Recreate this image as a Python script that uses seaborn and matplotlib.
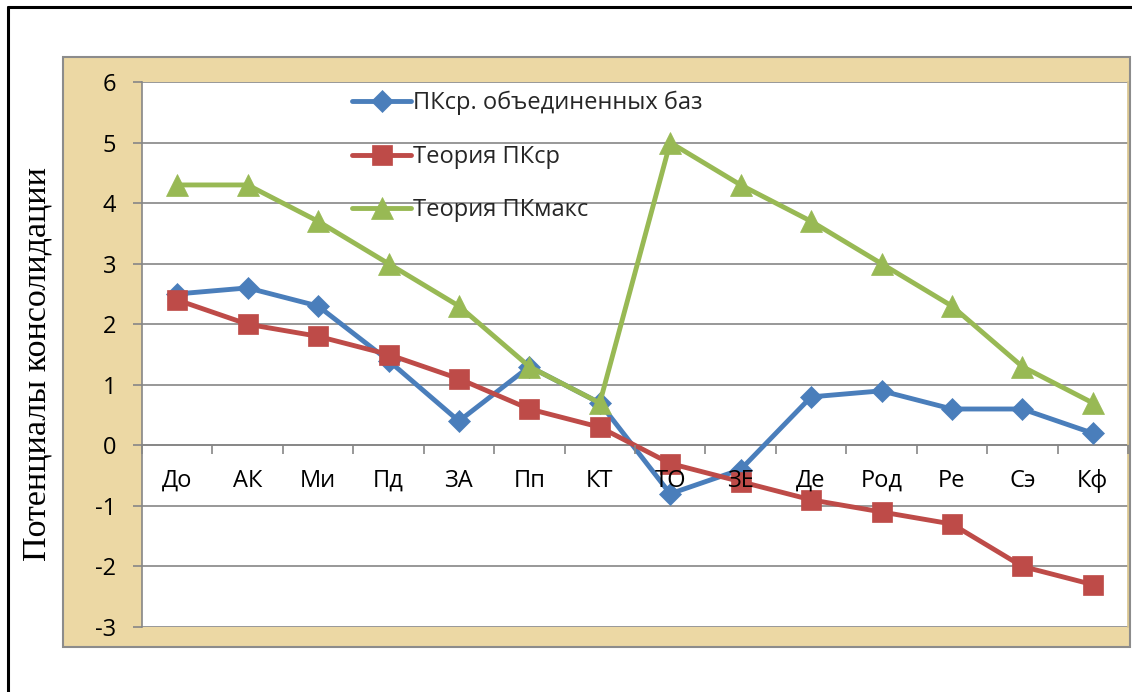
import matplotlib
matplotlib.use("Agg")
import matplotlib.pyplot as plt
from matplotlib.patches import Rectangle
from matplotlib.lines import Line2D
import seaborn as sns
import pandas as pd

categories = ["До", "АК", "Ми", "Пд", "ЗА", "Пп", "КТ", "ТО", "ЗЕ", "Де", "Род", "Ре", "Сэ", "Кф"]
pk_united = [2.5, 2.6, 2.3, 1.4, 0.4, 1.3, 0.7, -0.8, -0.4, 0.8, 0.9, 0.6, 0.6, 0.2]
theory_avg = [2.4, 2.0, 1.8, 1.5, 1.1, 0.6, 0.3, -0.3, -0.6, -0.9, -1.1, -1.3, -2.0, -2.3]
theory_max = [4.3, 4.3, 3.7, 3.0, 2.3, 1.3, 0.7, 5.0, 4.3, 3.7, 3.0, 2.3, 1.3, 0.7]
series_names = ["ПКср. объединенных баз", "Теория ПКср", "Теория ПКмакс"]
y_ticks = [-3, -2, -1, 0, 1, 2, 3, 4, 5, 6]

colors = ["#4A7EBB", "#BE4B48", "#98B954"]
markers = ["D", "s", "^"]
msizes = [11.5, 14, 15.5]

sns.set_theme(style="white")
plt.rcParams['font.family'] = ['Open Sans', 'DejaVu Sans']

W, H = 1132, 692
fig = plt.figure(figsize=(W / 100, H / 100), dpi=100)
fig.patch.set_facecolor("white")

# outer black frame (left and top visible)
fig.add_artist(Line2D([8 / W, 8 / W], [0, 1 - 7 / H], transform=fig.transFigure, color="black", lw=2.2))
fig.add_artist(Line2D([8 / W, 1], [1 - 7 / H, 1 - 7 / H], transform=fig.transFigure, color="black", lw=2.2))

# textured (papyrus-like) plot frame
fig.add_artist(Rectangle((63 / W, 1 - 647 / H), (1130 - 63) / W, (647 - 57) / H,
                         transform=fig.transFigure, facecolor="#ECD8A4", edgecolor="#8C8C8C",
                         lw=1.5, zorder=0))

ax = fig.add_axes([142 / W, 1 - 627 / H, (1128 - 142) / W, (627 - 82) / H])
ax.set_facecolor("white")
ax.set_zorder(1)

df_list = [pk_united, theory_avg, theory_max]
for name, vals, c, m, ms in zip(series_names, df_list, colors, markers, msizes):
    d = pd.DataFrame({"cat": categories, "val": vals})
    sns.lineplot(data=d, x="cat", y="val", ax=ax, color=c, marker=m, markersize=ms,
                 markeredgecolor=c, markeredgewidth=0.5, lw=3.5, label=name, sort=False,
                 clip_on=False)

ax.set_xlim(-0.5, len(categories) - 0.5)
ax.set_ylim(-3, 6)
ax.set_yticks(y_ticks)
ax.set_yticklabels([str(v) for v in y_ticks])
ax.yaxis.grid(True, color="#868686", lw=1.2)
ax.set_axisbelow(True)
ax.xaxis.set_zorder(5)

for s in ["left", "right", "top"]:
    ax.spines[s].set_color("#868686")
    ax.spines[s].set_linewidth(1.2)
ax.spines["top"].set_visible(False)
ax.spines["right"].set_color("#D8C48E")
ax.spines["bottom"].set_position(("data", 0))
ax.spines["bottom"].set_color("#868686")
ax.spines["bottom"].set_linewidth(1.2)
ax.spines["bottom"].set_zorder(1)

ax.set_xticks(range(len(categories)))
ax.set_xticklabels(categories)
ax.set_xticks([i - 0.5 for i in range(len(categories) + 1)], minor=True)
ax.tick_params(axis="x", which="major", length=0, pad=17, labelsize=17, colors="black")
ax.tick_params(axis="x", which="minor", length=6.5, width=1.2, color="#868686", direction="out", bottom=True)
ax.tick_params(axis="y", which="major", length=6.5, width=1.2, color="#868686", direction="out",
               left=True, pad=12, labelsize=17, labelcolor="black")

ax.set_xlabel("")
ax.set_ylabel("")

fig.text(37 / W, 1 - 364 / H, "Потенциалы консолидации", rotation=90, ha="center", va="center",
         fontsize=24.5, family=["Liberation Serif", "DejaVu Serif"], color="black")

leg = ax.legend(loc="upper left", bbox_to_anchor=(352 / W, 1 - 91 / H), bbox_transform=fig.transFigure,
                frameon=False, fontsize=17, handlelength=2.5, handletextpad=0.1,
                labelspacing=1.25, borderpad=0, borderaxespad=0)

fig.savefig("out.png", dpi=100)
